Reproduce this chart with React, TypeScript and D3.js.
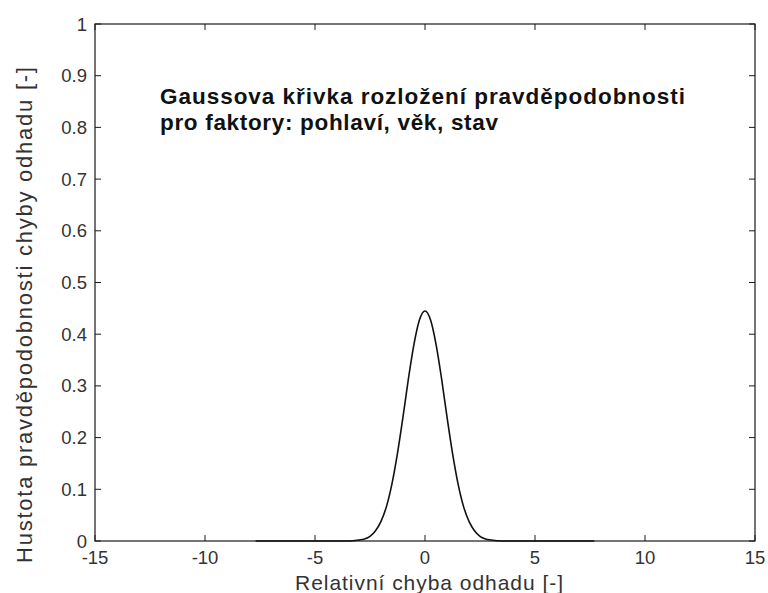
import React from "react";
import * as d3 from "d3";

// Axis ticks
const xTicks = [-15, -10, -5, 0, 5, 10, 15];
const xTickLabels = ["-15", "-10", "-5", "0", "5", "10", "15"];
const yTicks = [0, 0.1, 0.2, 0.3, 0.4, 0.5, 0.6, 0.7, 0.8, 0.9, 1];
const yTickLabels = ["0", "0.1", "0.2", "0.3", "0.4", "0.5", "0.6", "0.7", "0.8", "0.9", "1"];

// Curve values
const curveX = [-7.7, -3.5, -3, -2.75, -2.5, -2.25, -2, -1.75, -1.5, -1.25, -1, -0.75, -0.5, -0.25, 0,
  0.25, 0.5, 0.75, 1, 1.25, 1.5, 1.75, 2, 2.25, 2.5, 2.75, 3, 3.5, 7.7];
const curveY = [0, 0, 0.002, 0.004, 0.009, 0.02, 0.038, 0.067, 0.111, 0.17, 0.24, 0.315, 0.381, 0.428, 0.445,
  0.428, 0.381, 0.315, 0.24, 0.17, 0.111, 0.067, 0.038, 0.02, 0.009, 0.004, 0.002, 0, 0];

const titleLines = ["Gaussova křivka rozložení pravděpodobnosti", "pro faktory: pohlaví, věk, stav"];
const xLabel = "Relativní chyba odhadu [-]";
const yLabel = "Hustota pravděpodobnosti chyby odhadu [-]";

export default function App() {
  const W = 768, H = 593;
  const L = 95, R = 755, T = 24, B = 541;
  const x = d3.scaleLinear().domain([-15, 15]).range([L, R]);
  const y = d3.scaleLinear().domain([0, 1]).range([B, T]);
  const pts: [number, number][] = curveX.map((v, i) => [v, curveY[i]]);
  const line = d3.line<[number, number]>().x(d => x(d[0])).y(d => y(d[1])).curve(d3.curveMonotoneX);
  const tick = 6;
  const axisColor = "#1a1a1a";
  const font = "'Liberation Sans', Arial, sans-serif";
  return (
    <svg width={W} height={H} style={{ position: "absolute", left: 0, top: 0, background: "#fff" }} fontFamily={font}>
      <rect x={0} y={0} width={W} height={H} fill="#fff" />
      <rect x={L} y={T} width={R - L} height={B - T} fill="#fff" stroke={axisColor} strokeWidth={1.2} />
      {xTicks.map((t, i) => (
        <g key={"xt" + i}>
          <line x1={x(t)} x2={x(t)} y1={B} y2={B - tick} stroke={axisColor} strokeWidth={1} />
          <line x1={x(t)} x2={x(t)} y1={T} y2={T + tick} stroke={axisColor} strokeWidth={1} />
          <text x={x(t)} y={564} textAnchor="middle" fontSize={18.5} fill="#333">{xTickLabels[i]}</text>
        </g>
      ))}
      {yTicks.map((t, i) => (
        <g key={"yt" + i}>
          <line x1={L} x2={L + tick} y1={y(t)} y2={y(t)} stroke={axisColor} strokeWidth={1} />
          <line x1={R} x2={R - tick} y1={y(t)} y2={y(t)} stroke={axisColor} strokeWidth={1} />
          <text x={87} y={y(t)} textAnchor="end" dominantBaseline="central" fontSize={18.5} fill="#333">{yTickLabels[i]}</text>
        </g>
      ))}
      <path d={line(pts) || ""} fill="none" stroke="#111" strokeWidth={1.6} />
      <text x={160} y={104} fontSize={22.5} fontWeight="bold" fill="#111" textLength={525} lengthAdjust="spacing">{titleLines[0]}</text>
      <text x={160} y={130} fontSize={22.5} fontWeight="bold" fill="#111" textLength={338} lengthAdjust="spacing">{titleLines[1]}</text>
      <text x={429} y={590} textAnchor="middle" fontSize={21} fill="#333" textLength={268} lengthAdjust="spacing">{xLabel}</text>
      <text transform={`translate(32,315) rotate(-90)`} textAnchor="middle" fontSize={22} fill="#333" textLength={496} lengthAdjust="spacing">{yLabel}</text>
    </svg>
  );
}
